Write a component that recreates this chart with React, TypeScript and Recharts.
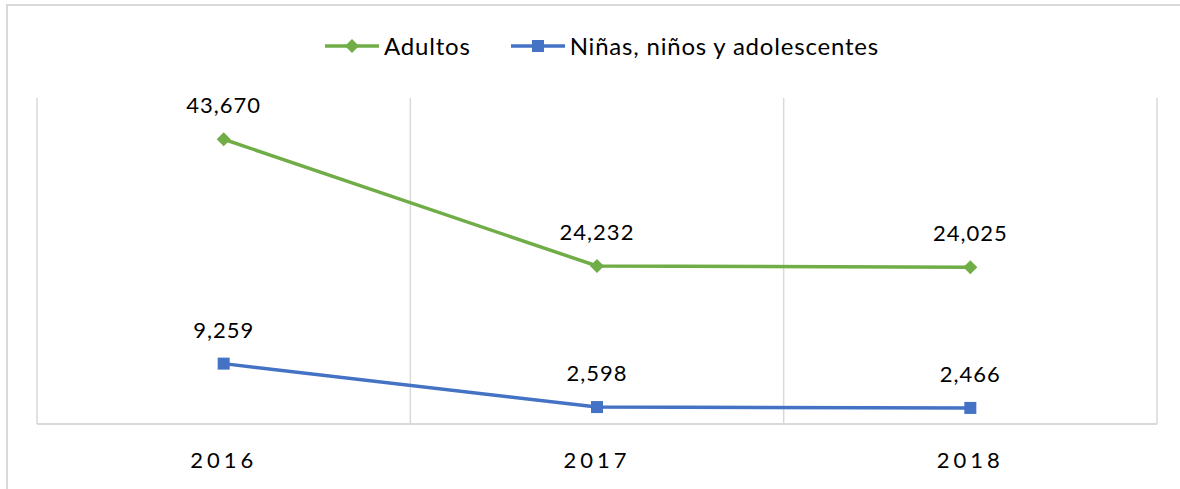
import { LineChart, Line, XAxis, YAxis, CartesianGrid } from 'recharts';

const years = ['2016', '2017', '2018'];
const adultos = [43670, 24232, 24025];
const ninos = [9259, 2598, 2466];

const GREEN = '#70AD47';
const BLUE = '#4472C4';
const GRID = '#D9D9D9';
const FONT = 'Lato, "Open Sans", sans-serif';

const data = years.map((y, i) => ({
  pos: i + 0.5,
  year: y,
  adultos: adultos[i],
  ninos: ninos[i],
}));

const Diamond = (props: any) => {
  const { cx, cy, fill } = props;
  if (cx == null || cy == null) return null;
  const r = 7;
  return <path d={`M${cx},${cy - r}L${cx + r},${cy}L${cx},${cy + r}L${cx - r},${cy}Z`} fill={fill} />;
};

const Square = (props: any) => {
  const { cx, cy, fill } = props;
  if (cx == null || cy == null) return null;
  const s = 12;
  return <rect x={cx - s / 2} y={cy - s / 2} width={s} height={s} fill={fill} />;
};

const fmt = (v: any) => Number(v).toLocaleString('en-US');

function LegendItem({ color, label, square }: { color: string; label: string; square?: boolean }) {
  return (
    <div style={{ display: 'flex', alignItems: 'center', gap: 5 }}>
      <svg width={54} height={16}>
        <line x1={0} y1={8} x2={54} y2={8} stroke={color} strokeWidth={3.5} />
        {square ? (
          <rect x={21} y={2} width={12} height={12} fill={color} />
        ) : (
          <path d="M27,1L34,8L27,15L20,8Z" fill={color} />
        )}
      </svg>
      <span>{label}</span>
    </div>
  );
}

export default function App() {
  return (
    <div style={{ position: 'absolute', left: 0, top: 0, width: 1180, height: 489, background: '#fff', overflow: 'hidden', fontFamily: FONT }}>
      <div style={{ position: 'absolute', left: 6, top: 4, width: 1200, height: 520, borderTop: `2px solid ${GRID}`, borderLeft: `2px solid ${GRID}` }} />
      <div style={{ position: 'absolute', top: 31, left: 0, width: 1204, display: 'flex', justifyContent: 'center', gap: 40, fontSize: 24, letterSpacing: 0.8, color: '#000' }}>
        <LegendItem color={GREEN} label="Adultos" />
        <LegendItem color={BLUE} label="Niñas, niños y adolescentes" square />
      </div>
      <LineChart
        width={1180}
        height={489}
        data={data}
        margin={{ top: 98, right: 23, bottom: 15, left: 37 }}
        style={{ position: 'absolute', left: 0, top: 0 }}
      >
        <XAxis xAxisId="grid" type="number" dataKey="pos" domain={[0, 3]} ticks={[0, 1, 2, 3]} height={0} hide />
        <CartesianGrid xAxisId="grid" horizontal={false} stroke={GRID} strokeWidth={1.5} />
        <XAxis
          xAxisId="main"
          type="number"
          dataKey="pos"
          domain={[0, 3]}
          ticks={data.map((d) => d.pos)}
          tickFormatter={(v: number) => years[Math.floor(v)]}
          height={50}
          axisLine={{ stroke: GRID, strokeWidth: 2 }}
          tickLine={false}
          tick={{ fill: '#000', fontSize: 22, fontFamily: FONT, letterSpacing: 4 }}
          tickMargin={22}
        />
        <YAxis domain={[0, 50000]} hide />
        <Line
          xAxisId="main"
          dataKey="adultos"
          stroke={GREEN}
          strokeWidth={3.5}
          dot={<Diamond fill={GREEN} />}
          activeDot={false}
          isAnimationActive={false}
          label={{ position: 'top', offset: 26, formatter: fmt, fill: '#000', fontSize: 22, fontFamily: FONT, letterSpacing: 1 }}
        />
        <Line
          xAxisId="main"
          dataKey="ninos"
          stroke={BLUE}
          strokeWidth={3.5}
          dot={<Square fill={BLUE} />}
          activeDot={false}
          isAnimationActive={false}
          label={{ position: 'top', offset: 26, formatter: fmt, fill: '#000', fontSize: 22, fontFamily: FONT, letterSpacing: 1 }}
        />
      </LineChart>
    </div>
  );
}
